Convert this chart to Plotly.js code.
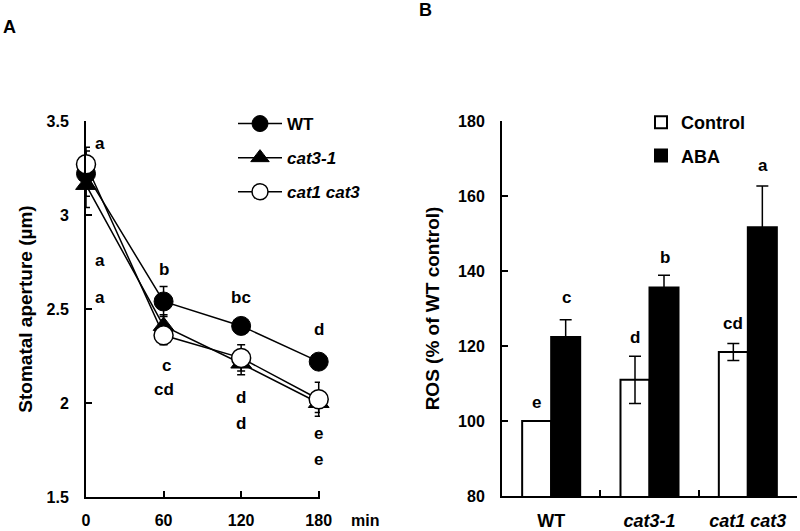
<!DOCTYPE html>
<html>
<head>
<meta charset="utf-8">
<script src="https://cdn.plot.ly/plotly-3.0.1.min.js"></script>
<style>html,body{margin:0;padding:0;background:#fff}#chart{width:800px;height:531px}</style>
</head>
<body>
<div id="chart"></div>
<script>
// ---- Panel A data ----
const timeMin = [0, 60, 120, 180];
const wtAperture = [3.22, 2.54, 2.41, 2.22];
const wtErr = [0.12, 0.08, 0.04, 0.04];
const cat31Aperture = [3.16, 2.41, 2.21, 2.00];
const cat31Err = [0.12, 0.06, 0.06, 0.05];
const cat13Aperture = [3.27, 2.36, 2.24, 2.02];
const cat13Err = [0.09, 0.05, 0.07, 0.09];
const aLetters = ['a','a','a','b','c','cd','bc','d','d','d','e','e'];
const aLetterX = [11, 11, 11, 60, 62, 60, 120, 120, 120, 180, 180, 180];
const aLetterY = [3.38, 2.76, 2.56, 2.71, 2.20, 2.07, 2.56, 2.03, 1.89, 2.39, 1.84, 1.70];

// ---- Panel B data ----
const genotypes = ['WT', 'cat3-1', 'cat1 cat3'];
const genotypeLabels = ['WT', '<i>cat3-1</i>', '<i>cat1 cat3</i>'];
const controlROS = [100, 111, 118.4];
const controlErr = [0, 6.3, 2.3];
const abaROS = [122.4, 135.6, 151.7];
const abaErr = [4.6, 3.3, 11];
const controlLetters = ['e', 'd', 'cd'];
const controlLetterY = [105, 122.4, 126];
const abaLetters = ['c', 'b', 'a'];
const abaLetterY = [133, 143.7, 168];

const FONT = 'Liberation Sans, Arial, sans-serif';
const lineStyle = {color: 'black', width: 1.5};
const errStyle = {type: 'data', visible: true, color: 'black', thickness: 1.5, width: 4};

const traces = [
  {x: timeMin, y: wtAperture, type: 'scatter', mode: 'lines+markers', name: 'WT',
   legendgroup: 'g1', line: lineStyle, cliponaxis: false,
   marker: {symbol: 'circle', size: 19, color: 'black', line: {color: 'black', width: 1}},
   error_y: Object.assign({array: wtErr}, errStyle), xaxis: 'x', yaxis: 'y'},
  {x: timeMin, y: cat31Aperture, type: 'scatter', mode: 'lines+markers', name: '<i>cat3-1</i>',
   legendgroup: 'g2', line: lineStyle, cliponaxis: false,
   marker: {symbol: 'triangle-up', size: 18, color: 'black', line: {color: 'black', width: 1}},
   error_y: Object.assign({array: cat31Err}, errStyle), xaxis: 'x', yaxis: 'y'},
  {x: timeMin, y: cat13Aperture, type: 'scatter', mode: 'lines+markers', name: '<i>cat1 cat3</i>',
   legendgroup: 'g3', line: lineStyle, cliponaxis: false,
   marker: {symbol: 'circle', size: 19, color: 'white', line: {color: 'black', width: 1.5}},
   error_y: Object.assign({array: cat13Err}, errStyle), xaxis: 'x', yaxis: 'y'},
  {x: genotypes, y: controlROS, type: 'bar', name: 'Control', legend: 'legend2', legendgroup: 'b1',
   marker: {color: 'white', line: {color: 'black', width: 2}},
   error_y: Object.assign({array: controlErr}, errStyle, {width: 6}), xaxis: 'x2', yaxis: 'y2'},
  {x: genotypes, y: abaROS, type: 'bar', name: 'ABA', legend: 'legend2', legendgroup: 'b2',
   marker: {color: 'black', line: {color: 'black', width: 2}},
   error_y: Object.assign({array: abaErr}, errStyle, {width: 6}), xaxis: 'x2', yaxis: 'y2'}
];

const letterFont = {family: FONT, size: 17, color: 'black', weight: 'bold'};
const annotations = [];
aLetters.forEach((t, i) => annotations.push({x: aLetterX[i], y: aLetterY[i], xref: 'x', yref: 'y',
  text: t, showarrow: false, xanchor: 'center', yanchor: 'middle', font: letterFont}));
controlLetters.forEach((t, i) => annotations.push({x: genotypes[i], y: controlLetterY[i], xref: 'x2', yref: 'y2',
  text: t, showarrow: false, xanchor: 'center', yanchor: 'middle', xshift: -15, font: letterFont}));
abaLetters.forEach((t, i) => annotations.push({x: genotypes[i], y: abaLetterY[i], xref: 'x2', yref: 'y2',
  text: t, showarrow: false, xanchor: 'center', yanchor: 'middle', xshift: 15, font: letterFont}));
annotations.push({x: 365/800, y: 1 - 520/531, xref: 'paper', yref: 'paper', text: 'min', showarrow: false,
  xanchor: 'center', yanchor: 'middle', font: {family: FONT, size: 16, color: 'black', weight: 'bold'}});
annotations.push({x: 9/800, y: 1 - 27/531, xref: 'paper', yref: 'paper', text: 'A', showarrow: false,
  xanchor: 'center', yanchor: 'middle', font: {family: FONT, size: 18, color: 'black', weight: 'bold'}});
annotations.push({x: 425/800, y: 1 - 10/531, xref: 'paper', yref: 'paper', text: 'B', showarrow: false,
  xanchor: 'center', yanchor: 'middle', font: {family: FONT, size: 18, color: 'black', weight: 'bold'}});

const axisCommon = {showline: true, linecolor: 'black', linewidth: 2, showgrid: false, zeroline: false,
  ticks: 'inside', ticklen: 6, tickwidth: 2, tickcolor: 'black',
  tickfont: {family: FONT, size: 16, color: 'black', weight: 'bold'}};

const layout = {
  width: 800, height: 531,
  margin: {l: 0, r: 0, t: 0, b: 0},
  paper_bgcolor: 'white', plot_bgcolor: 'white',
  font: {family: FONT, color: 'black', weight: 'bold'},
  showlegend: true,
  barmode: 'group', bargap: 0.41, bargroupgap: 0,
  xaxis: Object.assign({}, axisCommon, {domain: [86/800, 320/800], range: [0, 181],
    tickvals: timeMin, ticktext: timeMin.map(String), ticklabelstandoff: 8, anchor: 'y'}),
  yaxis: Object.assign({}, axisCommon, {domain: [1 - 497/531, 1 - 121/531], range: [1.5, 3.5],
    tickvals: [1.5, 2, 2.5, 3, 3.5], ticktext: ['1.5', '2', '2.5', '3', '3.5'], ticklabelstandoff: 12, anchor: 'x',
    title: {text: 'Stomatal aperture (µm)', font: {family: FONT, size: 19, color: 'black', weight: 'bold'}, standoff: 9}}),
  xaxis2: Object.assign({}, axisCommon, {domain: [502/800, 797/800], range: [-0.5, 2.5], type: 'category',
    tickson: 'boundaries', tickvals: genotypes, ticktext: genotypeLabels, ticklabelstandoff: 7, anchor: 'y2',
    tickfont: {family: FONT, size: 18, color: 'black', weight: 'bold'}}),
  yaxis2: Object.assign({}, axisCommon, {domain: [1 - 496/531, 1 - 121/531], range: [80, 180],
    tickvals: [80, 100, 120, 140, 160, 180], ticklabelstandoff: 12, anchor: 'x2',
    title: {text: 'ROS (% of WT control)', font: {family: FONT, size: 19, color: 'black', weight: 'bold'}, standoff: 13}}),
  legend: {x: 233/800, y: 1 - 106/531, xanchor: 'left', yanchor: 'top', bgcolor: 'rgba(0,0,0,0)',
    traceorder: 'grouped', tracegroupgap: 9, itemwidth: 44,
    font: {family: FONT, size: 17, color: 'black', weight: 'bold'}},
  legend2: {x: 641/800, y: 1 - 104/531, xanchor: 'left', yanchor: 'top', bgcolor: 'rgba(0,0,0,0)',
    traceorder: 'grouped', tracegroupgap: 7, itemwidth: 30,
    font: {family: FONT, size: 18, color: 'black', weight: 'bold'}},
  annotations: annotations
};

Plotly.newPlot('chart', traces, layout, {displayModeBar: false, staticPlot: true});
</script>
</body>
</html>
